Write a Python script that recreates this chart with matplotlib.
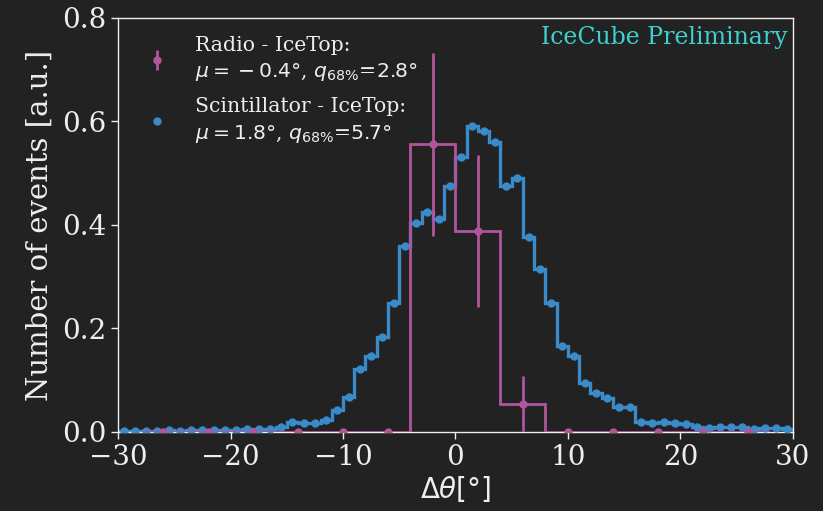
import numpy as np
import matplotlib
matplotlib.use("Agg")
import matplotlib.pyplot as plt

# ---------------- data ----------------
# Scintillator - IceTop: 1 degree bins from -30 to 30
scint_edges = np.arange(-30, 31, 1)
scint_values = [
    0.002, 0.002, 0.002, 0.002, 0.003, 0.002, 0.004, 0.004, 0.004, 0.003,   # -30..-20
    0.004, 0.006, 0.006, 0.006, 0.009, 0.019, 0.018, 0.018, 0.024, 0.043,   # -20..-10
    0.068, 0.122, 0.147, 0.183, 0.250, 0.360, 0.404, 0.426, 0.412, 0.475,   # -10..0
    0.531, 0.591, 0.581, 0.560, 0.475, 0.490, 0.377, 0.314, 0.250, 0.167,   # 0..10
    0.147, 0.095, 0.076, 0.065, 0.049, 0.049, 0.019, 0.018, 0.019, 0.017,   # 10..20
    0.016, 0.009, 0.008, 0.009, 0.009, 0.009, 0.006, 0.007, 0.007, 0.006,   # 20..30
]

# Radio - IceTop: 4 degree bins from -28 to 28
radio_edges = np.arange(-28, 29, 4)
radio_values = [0, 0, 0, 0, 0, 0, 0.556, 0.389, 0.054, 0, 0, 0, 0, 0]
radio_errors = [0, 0, 0, 0, 0, 0, 0.177, 0.147, 0.055, 0, 0, 0, 0, 0]

radio_label = 'Radio - IceTop:\n$\\mu={}-0.4°$, $q_{68\\%}$=$2.8°$'
scint_label = 'Scintillator - IceTop:\n$\\mu=1.8°$, $q_{68\\%}$=$5.7°$'

xticks = [-30, -20, -10, 0, 10, 20, 30]
yticks = [0.0, 0.2, 0.4, 0.6, 0.8]

# ---------------- style ----------------
bg = '#222222'
fg = '#eeeeee'
blue = '#3a8bc9'
pink = '#b0559c'

plt.rcParams['font.family'] = ['DejaVu Serif']
plt.rcParams['mathtext.fontset'] = 'dejavusans'

fig = plt.figure(figsize=(8.23, 5.11), dpi=100, facecolor=bg)
ax = fig.add_axes([0.1434, 0.1546, 0.8201, 0.8102], facecolor=bg)

scint_centers = 0.5 * (scint_edges[:-1] + scint_edges[1:])
radio_centers = 0.5 * (radio_edges[:-1] + radio_edges[1:])

ax.stairs(scint_values, scint_edges, color=blue, lw=2.4, zorder=2)
ax.plot(scint_centers, scint_values, 'o', color=blue, ms=5, zorder=3, label=scint_label)

ax.stairs(radio_values, radio_edges, color=pink, lw=2.0, zorder=4)
ax.errorbar(radio_centers, radio_values, yerr=radio_errors, fmt='o', color=pink,
            ms=5, elinewidth=2.0, capsize=0, zorder=5, label=radio_label)

ax.set_xlim(-30, 30)
ax.set_ylim(0, 0.8)
ax.set_xticks(xticks)
ax.set_yticks(yticks)
ax.tick_params(colors=fg, labelsize=20, length=5, width=1, direction='out')
for s in ax.spines.values():
    s.set_color(fg)
    s.set_linewidth(1)

ax.set_xlabel('$\\Delta\\theta[°]$', fontsize=20, color=fg, labelpad=2)
ax.set_ylabel('Number of events [a.u.]', fontsize=21, color=fg, labelpad=6)

handles, labels = ax.get_legend_handles_labels()
order = [1, 0]
leg = ax.legend([handles[i] for i in order], [labels[i] for i in order],
                loc='upper left', frameon=False, fontsize=14.7,
                handlelength=3.0, handletextpad=0.35, borderaxespad=0.0,
                borderpad=0.4, labelspacing=0.7, bbox_to_anchor=(0.0, 0.977))
for t in leg.get_texts():
    t.set_color(fg)
    t.set_linespacing(1.4)

ax.text(0.992, 0.98, 'IceCube Preliminary', transform=ax.transAxes,
        ha='right', va='top', fontsize=17, color='#3fcfcf')

fig.savefig('out.png', dpi=100, facecolor=bg)
